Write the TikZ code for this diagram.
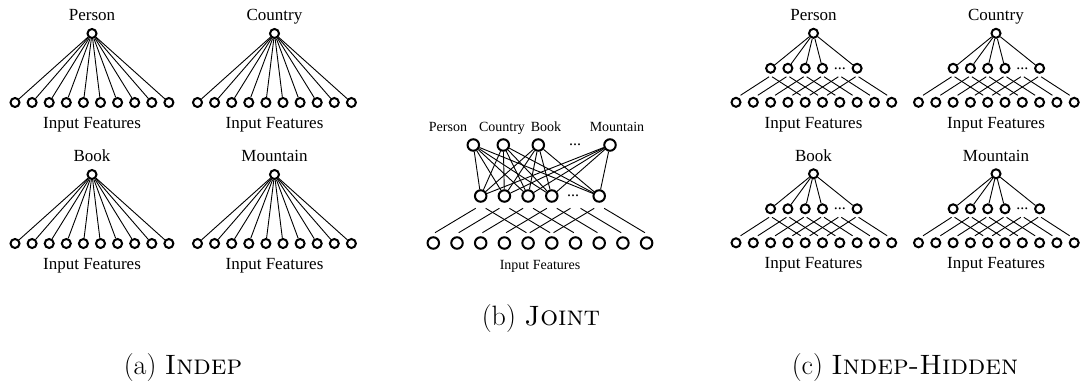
\documentclass[tikz,border=0pt]{standalone}
\usepackage{fontspec}
\newfontfamily\figfont{Liberation Serif}
\begin{document}
\begin{tikzpicture}[x=1pt,y=-1pt,
  unit/.style={circle,draw,line width=2pt,minimum size=9pt,inner sep=0pt},
  bigunit/.style={circle,draw,line width=2pt,minimum size=11.5pt,inner sep=0pt},
  link/.style={line width=0.9pt},
  lbl/.style={font=\figfont\fontsize{17}{20}\selectfont,anchor=base,inner sep=0pt},
  slbl/.style={font=\figfont\fontsize{14}{17}\selectfont,anchor=base,inner sep=0pt},
  subcaption/.style={font=\fontsize{28}{32}\selectfont,anchor=base,inner sep=0pt},
  dotsl/.style={font=\figfont\fontsize{16}{18}\selectfont,inner sep=0pt},
]
\useasboundingbox (0,0) rectangle (1081,380);

% (a) one output unit per type, wired to every input feature
\foreach \name/\dx/\dy/\idx in {Person/0/0/1, Country/182.5/0/2, Book/0/141/3, Mountain/182.5/141/4} {
  \begin{scope}[shift={(\dx,\dy)}]
    \node[lbl] (a\idx-lbl) at (92,20.5) {\name};
    \node[unit] (a\idx-top) at (92,33.5) {};
    \foreach \k in {1,...,10} {
      \node[unit] (a\idx-in\k) at ({15+17.1*(\k-1)},102.5) {};
      \draw[link] (a\idx-top) -- (a\idx-in\k);
    }
    \node[lbl] (a\idx-if) at (92,128) {Input Features};
  \end{scope}
}

% (c) one output unit per type, each with its own hidden layer
\foreach \name/\dx/\dy/\idx in {Person/0/0/1, Country/182.5/0/2, Book/0/140.5/3, Mountain/182.5/140.5/4} {
  \begin{scope}[shift={(\dx,\dy)}]
    \node[lbl] (c\idx-lbl) at (813.5,20.5) {\name};
    \node[unit] (c\idx-top) at (813.5,33.3) {};
    \foreach \k in {1,...,10}
      \node[unit] (c\idx-in\k) at ({736+17.3*(\k-1)},102.3) {};
    \foreach \k/\p in {1/3,2/4,3/5,4/6,6/8}
      \node[unit] (c\idx-h\k) at ({736+17.3*(\p-1)},68.3) {};
    \coordinate (c\idx-h5) at ({736+17.3*6},68.3);
    \node[dotsl] (c\idx-dots) at (c\idx-h5) {...};
    \foreach \k in {1,2,3,4,6}
      \draw[link] (c\idx-top) -- (c\idx-h\k);
    \foreach \k [evaluate=\k as \j using int(\k+4)] in {1,...,6} {
      \draw[link] ([shift={(4.5,-7)}]c\idx-in\k.center) -- ([shift={(-1.5,8.5)}]c\idx-h\k.center);
      \draw[link] ([shift={(1.5,8.5)}]c\idx-h\k.center) -- ([shift={(-4.5,-7)}]c\idx-in\j.center);
    }
    \node[lbl] (c\idx-if) at (813.5,128) {Input Features};
  \end{scope}
}

% (b) all type units share one hidden layer
\foreach \name/\x/\lx [count=\i] in {Person/473.3/448, Country/503.3/502, Book/538.3/546, Mountain/610/617} {
  \node[slbl] (bl\i) at (\lx,131.5) {\name};
  \node[bigunit] (bt\i) at (\x,145) {};
}
\node[dotsl] (btdots) at (575,145) {...};
\foreach \k in {1,...,10}
  \node[bigunit] (bi\k) at ({433.3+23.7*(\k-1)},243) {};
\foreach \k/\p in {1/3,2/4,3/5,4/6,6/8}
  \node[bigunit] (bh\k) at ({433.3+23.7*(\p-1)},196) {};
\coordinate (bh5) at ({433.3+23.7*6},196);
\node[dotsl] (bhdots) at (573,196) {...};
\foreach \i in {1,...,4}
  \foreach \k in {1,2,3,4,6}
    \draw[link] (bt\i) -- (bh\k);
\foreach \k [evaluate=\k as \j using int(\k+4)] in {1,...,6} {
  \draw[link] ([shift={(1.7,-10.3)}]bi\k.center) -- ([shift={(-5,12.3)}]bh\k.center);
  \draw[link] ([shift={(5,12.3)}]bh\k.center) -- ([shift={(-1.7,-10.3)}]bi\j.center);
}
\node[slbl] (bif) at (540,269) {Input Features};

% sub-captions
\node[subcaption] (capa) at (183,374) {(a) \textsc{Indep}};
\node[subcaption] (capb) at (541,325) {(b) \textsc{Joint}};
\node[subcaption] (capc) at (905,374) {(c) \textsc{Indep-Hidden}};
\end{tikzpicture}
\end{document}
